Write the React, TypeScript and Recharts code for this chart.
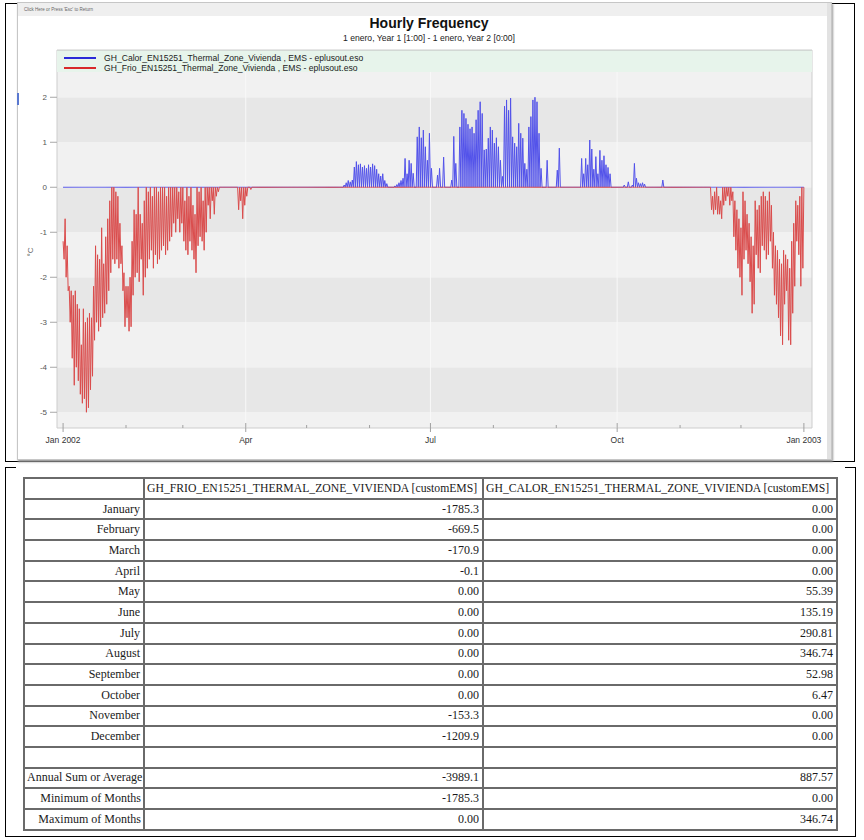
import React from 'react';
import { ComposedChart, Line, XAxis, YAxis, ReferenceArea, ReferenceLine, Legend } from 'recharts';

// ---------- chart data ----------
const X_TICK_DAYS = [0, 31, 59, 90, 120, 151, 181, 212, 243, 273, 304, 334, 365];
const X_TICK_LABELS = ['Jan 2002', '', '', 'Apr', '', '', 'Jul', '', '', 'Oct', '', '', 'Jan 2003'];
const Y_TICKS = [-5, -4, -3, -2, -1, 0, 1, 2];

// GH_Frio: daily minimum / daily maximum, winter block starting at day 0
const FRIO_WINTER_START = 0;
const FRIO_WINTER_LOW = [
  -1.6, -2.0, -2.3, -3.0, -3.8, -4.4, -4.0, -4.3, -4.6, -4.8,
  -4.7, -5.0, -4.9, -4.5, -4.2, -3.4, -3.0, -3.2, -3.1, -2.9,
  -2.8, -2.6, -2.3, -1.9, -1.6, -1.7, -1.6, -1.8, -1.7, -2.3,
  -3.1, -2.9, -3.2, -3.1, -2.4, -2.0, -1.9, -2.1, -1.6, -2.4,
  -2.0, -1.8, -1.6, -1.4, -1.8, -1.5, -1.7, -1.6, -1.4, -1.3,
  -1.5, -1.4, -1.2, -1.1, -0.8, -1.0, -0.7, -1.0, -0.8, -1.2,
  -1.4, -1.5, -1.2, -1.4, -1.6, -1.9, -1.3, -1.1, -1.2, -1.4,
  -1.0, -0.4, -0.7, -0.3, -0.6, -0.2, -0.1, 0, 0, 0,
  0, 0, 0, 0, 0, 0, -0.5, -0.3, -0.7, -0.4,
  -0.2, 0, -0.05,
];
const FRIO_WINTER_HIGH = [
  -1.2, -0.7, -1.3, -2.2, -2.3, -2.4, -2.3, -2.6, -2.7, -3.5,
  -2.7, -3.0, -2.9, -2.8, -2.9, -2.2, -1.3, -1.5, -1.6, -0.9,
  -1.7, -1.1, -0.7, -0.3, 0, 0, -0.1, -0.2, -0.8, -1.3,
  -1.9, -2.2, -2.2, -2.0, -1.2, -0.5, -0.6, 0, -0.6, -0.8,
  -0.3, 0, -0.1, 0, -0.2, 0, 0, -0.1, 0, 0,
  0, -0.2, 0, 0, 0, 0, 0, -0.1, 0, 0,
  -0.3, 0, -0.2, 0, -0.4, -0.6, 0, -0.1, 0, -0.3,
  0, 0, 0, 0, 0, 0, 0, 0, 0, 0,
  0, 0, 0, 0, 0, 0, 0, 0, 0, 0,
  0, 0, 0,
];
// GH_Frio: autumn/winter block starting at day 319
const FRIO_AUTUMN_START = 319;
const FRIO_AUTUMN_LOW = [
  -0.5, -0.6, -0.5, -0.6, -0.6, -0.7, -0.4, -0.3, -0.2, -0.4,
  -0.3, -1.1, -1.4, -1.8, -2.0, -2.4, -1.6, -1.4, -1.7, -2.1,
  -2.8, -2.6, -1.5, -1.8, -1.9, -1.3, -1.4, -1.6, -1.5, -1.2,
  -1.8, -2.4, -2.6, -2.9, -3.3, -3.5, -2.6, -2.3, -3.4, -3.5,
  -2.8, -2.2, -1.2, -1.5, -2.2, -1.8,
];
const FRIO_AUTUMN_HIGH = [
  0, -0.2, -0.1, 0, -0.2, -0.3, 0, 0, 0, 0,
  0, -0.1, -0.3, -0.5, -0.7, -0.9, -0.1, -0.3, -0.6, -0.8,
  -1.1, -1.3, -0.3, -0.5, -0.4, -0.2, -0.1, -0.2, -0.3, -0.1,
  -0.4, -1.0, -1.3, -1.4, -1.6, -1.7, -1.4, -1.5, -1.6, -1.8,
  -1.2, -0.8, -0.3, -0.4, -0.2, 0,
];
// GH_Calor: daily peak, block starting at day 138
const CALOR_START = 138;
const CALOR_PEAK = [
  0.05, 0.10, 0.15, 0.12, 0.16, 0.45, 0.57, 0.50, 0.52, 0.45,
  0.48, 0.42, 0.50, 0.45, 0.52, 0.48, 0.40, 0.30, 0.25, 0.30,
  0.15, 0.08, 0, 0, 0, 0.03, 0.06, 0.10, 0.15, 0.20,
  0.64, 0.30, 0.60, 0.53, 0.31, 0, 1.12, 1.34, 1.10, 1.27,
  0.90, 0.60, 1.20, 0.42, 0, 0, 0.27, 0.42, 0, 0.67,
  0, 0, 0, 0.16, 1.13, 0.53, 0, 1.34, 1.71, 1.64,
  1.53, 1.40, 1.30, 1.34, 1.20, 1.50, 1.71, 1.90, 1.64, 0.83,
  0.85, 1.09, 1.34, 1.27, 0.98, 1.10, 0.90, 0.60, 0.24, 1.80,
  1.94, 1.71, 1.98, 1.12, 0.98, 0.90, 1.42, 1.20, 1.09, 0.53,
  0.40, 1.34, 1.57, 1.94, 2.00, 1.90, 1.20, 0.42, 0, 0,
  0.60, 0, 0, 0, 0, 0.38, 0.87, 0, 0, 0,
  0, 0, 0, 0, 0, 0, 0, 0.64, 0.30, 0.64,
  0.50, 1.05, 0.85, 0.40, 0.68, 0.30, 0.82, 0.60, 0.70, 0.50,
  0.44, 0.30, 0, 0, 0, 0, 0, 0, 0.05, 0,
  0.12, 0, 0.05, 0.53, 0.20, 0.10, 0.08, 0.10, 0.07, 0,
  0, 0, 0, 0, 0, 0, 0, 0.16,
];

const SERIES_NAMES = [
  'GH_Calor_EN15251_Thermal_Zone_Vivienda , EMS - eplusout.eso',
  'GH_Frio_EN15251_Thermal_Zone_Vivienda , EMS - eplusout.eso',
];
const SERIES_COLORS = ['#5252ea', '#da4c4c'];
const LEGEND_COLORS = ['#2a2ad8', '#d82a2a'];

// ---------- table data ----------
const TABLE_HEADERS = [
  'GH_FRIO_EN15251_THERMAL_ZONE_VIVIENDA [customEMS]',
  'GH_CALOR_EN15251_THERMAL_ZONE_VIVIENDA [customEMS]',
];
const MONTHS = ['January', 'February', 'March', 'April', 'May', 'June', 'July', 'August', 'September', 'October', 'November', 'December'];
const FRIO_MONTHLY = ['-1785.3', '-669.5', '-170.9', '-0.1', '0.00', '0.00', '0.00', '0.00', '0.00', '0.00', '-153.3', '-1209.9'];
const CALOR_MONTHLY = ['0.00', '0.00', '0.00', '0.00', '55.39', '135.19', '290.81', '346.74', '52.98', '6.47', '0.00', '0.00'];
const SUMMARY_LABELS = ['Annual Sum or Average', 'Minimum of Months', 'Maximum of Months'];
const FRIO_SUMMARY = ['-3989.1', '-1785.3', '0.00'];
const CALOR_SUMMARY = ['887.57', '0.00', '346.74'];

// ---------- helpers ----------
const pick = (arr: number[], start: number, d: number) => {
  const i = d - start;
  return i >= 0 && i < arr.length ? arr[i] : 0;
};
const frioLow = (d: number) => (d < 200 ? pick(FRIO_WINTER_LOW, FRIO_WINTER_START, d) : pick(FRIO_AUTUMN_LOW, FRIO_AUTUMN_START, d));
const frioHigh = (d: number) => (d < 200 ? pick(FRIO_WINTER_HIGH, FRIO_WINTER_START, d) : pick(FRIO_AUTUMN_HIGH, FRIO_AUTUMN_START, d));

const chartData: { t: number; calor: number; frio: number }[] = [];
for (let d = 0; d < 365; d++) {
  chartData.push({ t: d, calor: 0, frio: frioHigh(d) });
  chartData.push({ t: d + 0.5, calor: pick(CALOR_PEAK, CALOR_START, d), frio: frioLow(d) });
}
chartData.push({ t: 365, calor: 0, frio: 0 });

const SANS = '"Liberation Sans", Arial, Helvetica, sans-serif';
const SERIF = '"Liberation Serif", "Times New Roman", Times, serif';

const XTick = (props: any) => {
  const { x, y, payload } = props;
  const idx = X_TICK_DAYS.indexOf(payload.value);
  const label = idx >= 0 ? X_TICK_LABELS[idx] : '';
  const major = label !== '';
  return (
    <g>
      <line x1={x} x2={x} y1={major ? y - 5 : y - 3} y2={major ? y + 4 : y} stroke="#a0a0a0" strokeWidth={1} />
      {major && (
        <text x={x} y={y + 15} textAnchor="middle" fontSize={8.5} fill="#333" fontFamily={SANS}>
          {label}
        </text>
      )}
    </g>
  );
};

const LegendBox = () => (
  <div style={{ width: 755, height: 22, background: '#e7f4eb', borderTop: '1px solid #d2d8d4', boxSizing: 'border-box', position: 'relative' }}>
    {SERIES_NAMES.map((n, i) => (
      <div key={n} style={{ position: 'absolute', left: 7, top: 2 + i * 10, height: 10, display: 'flex', alignItems: 'center' }}>
        <div style={{ width: 32, height: 2.5, background: LEGEND_COLORS[i] }} />
        <span style={{ marginLeft: 8, fontSize: 8.6, fontFamily: SANS, color: '#222', whiteSpace: 'nowrap', lineHeight: '10px' }}>{n}</span>
      </div>
    ))}
  </div>
);

const bands: { y1: number; y2: number; fill: string }[] = [];
{
  const edges = [-5.35, ...Y_TICKS, 3.05];
  for (let i = 0; i < edges.length - 1; i++) {
    bands.push({ y1: edges[i], y2: edges[i + 1], fill: i % 2 === 1 ? '#e7e7e7' : '#f1f1f1' });
  }
}

const cellBorder = '2px solid #6a6a6a';
const tdBase: React.CSSProperties = { border: cellBorder, padding: '0 3px', whiteSpace: 'nowrap', overflow: 'hidden' };
const thBase: React.CSSProperties = { ...tdBase, padding: '0 2px', textAlign: 'left', fontSize: 11.7 };

export default function App() {
  return (
    <div style={{ position: 'absolute', left: 0, top: 0, width: 864, height: 840, background: '#fff', overflow: 'hidden' }}>
      {/* upper frame */}
      <div style={{ position: 'absolute', left: 5, top: 3, width: 850, height: 459, border: '1px solid #000', boxSizing: 'border-box' }} />
      {/* chart window */}
      <div style={{ position: 'absolute', left: 17, top: 2, width: 815, height: 458, background: '#fff', border: '1px solid #c6c6c6', boxShadow: '1px 2px 2px #9a9a9a', boxSizing: 'border-box' }}>
        <div style={{ position: 'absolute', left: 0, top: 0, right: 0, height: 13, background: '#efefef' }} />
        <div style={{ position: 'absolute', left: 6, top: 4, fontSize: 4.5, fontFamily: SANS, color: '#666', whiteSpace: 'nowrap' }}>Click Here or Press 'Esc' to Return</div>
        <div style={{ position: 'absolute', right: 0, top: 0, bottom: 0, width: 4, background: '#e2e2e2' }} />
      </div>
      <div style={{ position: 'absolute', left: 17, top: 93, width: 2, height: 12, background: '#5a78d0' }} />

      {/* title */}
      <div style={{ position: 'absolute', left: 229, width: 400, top: 15, textAlign: 'center', fontFamily: SANS, fontWeight: 'bold', fontSize: 14, color: '#111', lineHeight: '16px' }}>Hourly Frequency</div>
      <div style={{ position: 'absolute', left: 229, width: 400, top: 33, textAlign: 'center', fontFamily: SANS, fontSize: 8.6, color: '#222', lineHeight: '10px' }}>
        1 enero, Year 1 [1:00] - 1 enero, Year 2 [0:00]
      </div>
      <div style={{ position: 'absolute', left: 25, top: 246, width: 12, height: 12, fontFamily: SANS, fontSize: 8, color: '#666', transform: 'rotate(-90deg)', lineHeight: '12px', textAlign: 'center' }}>°C</div>

      <div style={{ position: 'absolute', left: 18, top: 4 }}>
        <ComposedChart width={814} height={456} data={chartData} margin={{ top: 46, right: 20, bottom: 0, left: 0 }}>
          {bands.map((b, i) => (
            <ReferenceArea key={i} y1={b.y1} y2={b.y2} fill={b.fill} fillOpacity={1} stroke="none" ifOverflow="visible" />
          ))}
          {[90, 181, 273].map((d) => (
            <ReferenceLine key={d} x={d} stroke="#f8f8f8" strokeWidth={1} />
          ))}
          <ReferenceArea y1={-5.35} y2={3.05} fill="none" stroke="#cdcdcd" strokeWidth={1} ifOverflow="visible" />
          <XAxis
            dataKey="t"
            type="number"
            domain={[-3, 369]}
            allowDataOverflow
            ticks={X_TICK_DAYS}
            interval={0}
            tick={<XTick />}
            tickLine={false}
            axisLine={false}
            tickSize={0}
            tickMargin={0}
            height={32}
          />
          <YAxis
            type="number"
            domain={[-5.35, 3.05]}
            allowDataOverflow
            ticks={Y_TICKS}
            interval={0}
            width={39}
            tickSize={7}
            tickMargin={3}
            axisLine={false}
            tickLine={{ stroke: '#a8a8a8' }}
            tick={{ fontSize: 8, fill: '#555', fontFamily: SANS }}
          />
          <Legend
            layout="vertical"
            align="center"
            verticalAlign="middle"
            content={<LegendBox />}
            wrapperStyle={{ position: 'absolute', left: 39, top: 46, width: 755, height: 22 }}
          />
          <Line dataKey="calor" name={SERIES_NAMES[0]} type="linear" stroke={SERIES_COLORS[0]} strokeWidth={1} dot={false} activeDot={false} isAnimationActive={false} />
          <Line dataKey="frio" name={SERIES_NAMES[1]} type="linear" stroke={SERIES_COLORS[1]} strokeWidth={1} dot={false} activeDot={false} isAnimationActive={false} />
        </ComposedChart>
      </div>

      {/* lower frame */}
      <div style={{ position: 'absolute', left: 5, top: 467, width: 851, height: 370, borderLeft: '1px solid #000', borderRight: '1px solid #000', borderBottom: '1px solid #000', boxSizing: 'border-box' }} />
      <div style={{ position: 'absolute', left: 5, top: 467, width: 11, height: 1, background: '#000' }} />
      <div style={{ position: 'absolute', left: 845, top: 467, width: 11, height: 1, background: '#000' }} />

      {/* table */}
      <table style={{ position: 'absolute', left: 23, top: 477, width: 813, borderCollapse: 'collapse', tableLayout: 'fixed', fontFamily: SERIF, fontSize: 12, color: '#1a1a1a', border: cellBorder }}>
        <colgroup>
          <col style={{ width: 120 }} />
          <col style={{ width: 339 }} />
          <col style={{ width: 354 }} />
        </colgroup>
        <tbody>
          <tr style={{ height: 20.7 }}>
            <td style={tdBase}></td>
            <td style={thBase}>{TABLE_HEADERS[0]}</td>
            <td style={thBase}>{TABLE_HEADERS[1]}</td>
          </tr>
          {MONTHS.map((m, i) => (
            <tr key={m} style={{ height: 20.7 }}>
              <td style={{ ...tdBase, textAlign: 'right' }}>{m}</td>
              <td style={{ ...tdBase, textAlign: 'right' }}>{FRIO_MONTHLY[i]}</td>
              <td style={{ ...tdBase, textAlign: 'right' }}>{CALOR_MONTHLY[i]}</td>
            </tr>
          ))}
          <tr style={{ height: 20.7 }}>
            <td style={tdBase}></td>
            <td style={tdBase}></td>
            <td style={tdBase}></td>
          </tr>
          {SUMMARY_LABELS.map((s, i) => (
            <tr key={s} style={{ height: 20.7 }}>
              <td style={{ ...tdBase, textAlign: 'right', padding: '0 2px' }}>{s}</td>
              <td style={{ ...tdBase, textAlign: 'right' }}>{FRIO_SUMMARY[i]}</td>
              <td style={{ ...tdBase, textAlign: 'right' }}>{CALOR_SUMMARY[i]}</td>
            </tr>
          ))}
        </tbody>
      </table>
    </div>
  );
}
